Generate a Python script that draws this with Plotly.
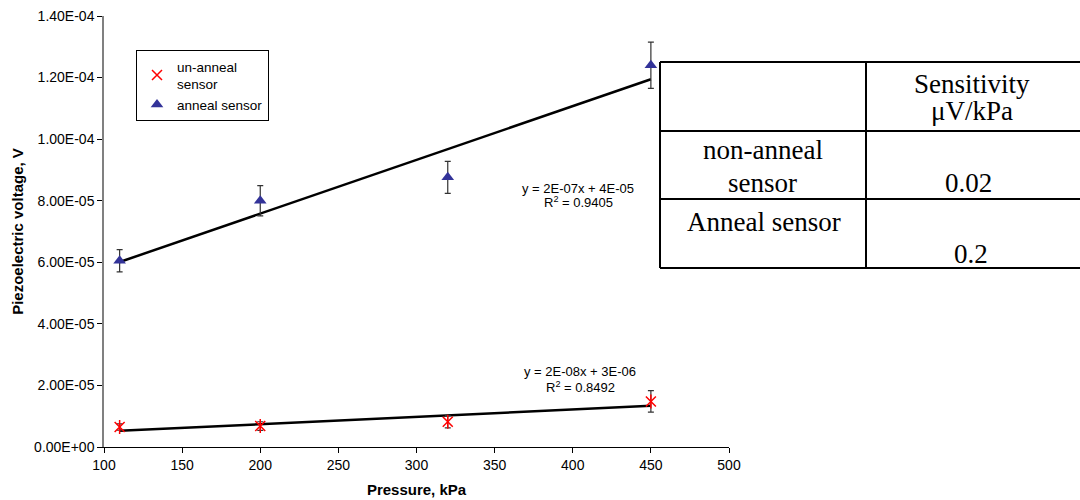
import numpy as np
import plotly.graph_objects as go

# ---------------- data ----------------
pressure = [110, 200, 320, 450]
unanneal_v = [6.5e-6, 6.8e-6, 8.2e-6, 1.48e-5]
unanneal_err = [1.0e-6, 1.4e-6, 2.0e-6, 3.5e-6]
anneal_v = [6.05e-5, 8.0e-5, 8.76e-5, 1.24e-4]
anneal_err = [3.6e-6, 4.9e-6, 5.2e-6, 7.5e-6]

y_tickvals = [0, 2e-5, 4e-5, 6e-5, 8e-5, 1e-4, 1.2e-4, 1.4e-4]
y_ticktext = ["0.00E+00", "2.00E-05", "4.00E-05", "6.00E-05", "8.00E-05",
              "1.00E-04", "1.20E-04", "1.40E-04"]
x_tickvals = [100, 150, 200, 250, 300, 350, 400, 450, 500]

eq_anneal = ["y = 2E-07x + 4E-05", "R<sup>2</sup> = 0.9405"]
eq_unanneal = ["y = 2E-08x + 3E-06", "R<sup>2</sup> = 0.8492"]

table_header = ["Sensitivity", "\u03bcV/kPa"]
table_rows = [["non-anneal", "sensor"], ["Anneal sensor"]]
table_values = ["0.02", "0.2"]

# ---------------- layout geometry ----------------
W, H = 1080, 500
L, R, T, B = 104, 729, 16, 447


def px(xp):
    return (xp - L) / (R - L)


def py(yp):
    return (B - yp) / (B - T)


fig = go.Figure()

# trendlines (least squares fit, like the spreadsheet)
xfit = np.array([pressure[0], pressure[-1]])
for vals in (unanneal_v, anneal_v):
    k, c = np.polyfit(pressure, vals, 1)
    fig.add_trace(go.Scatter(x=xfit, y=k * xfit + c, mode="lines",
                             line=dict(color="black", width=2.5),
                             showlegend=False, hoverinfo="skip"))

# un-anneal sensor (star marker = x + vertical line)
fig.add_trace(go.Scatter(
    x=pressure, y=unanneal_v, mode="markers", name="un-anneal<br>sensor",
    marker=dict(symbol="x-thin-open", size=10, color="#FF0000",
                line=dict(color="#FF0000", width=1.5)),
    error_y=dict(type="data", array=unanneal_err, visible=True,
                 color="#333333", thickness=1.2, width=3),
    legendgroup="u"))
fig.add_trace(go.Scatter(
    x=pressure, y=unanneal_v, mode="markers", showlegend=False,
    marker=dict(symbol="line-ns-open", size=10, color="#FF0000",
                line=dict(color="#FF0000", width=1.5)),
    legendgroup="u", hoverinfo="skip"))

# anneal sensor
fig.add_trace(go.Scatter(
    x=pressure, y=anneal_v, mode="markers", name="anneal sensor",
    marker=dict(symbol="triangle-up", size=11, color="#333399"),
    error_y=dict(type="data", array=anneal_err, visible=True,
                 color="#333333", thickness=1.2, width=3)))

# trendline equations
ann = []
for text, xp, yp in [(eq_anneal[0], 578, 188), (eq_anneal[1], 578, 202),
                     (eq_unanneal[0], 580, 371), (eq_unanneal[1], 580, 387)]:
    ann.append(dict(text=text, x=px(xp), y=py(yp), xref="paper", yref="paper",
                    showarrow=False, xanchor="center", yanchor="middle",
                    font=dict(family="Arial, Liberation Sans", size=13, color="black")))

# table text
serif = dict(family="Liberation Serif, Times New Roman", size=27, color="black")
cells = [(table_header[0], 972, 84), (table_header[1], 972, 111),
         (table_rows[0][0], 763, 150), (table_rows[0][1], 762, 183),
         (table_values[0], 968, 183),
         (table_rows[1][0], 764, 222), (table_values[1], 971, 254)]
for text, xp, yp in cells:
    ann.append(dict(text=text, x=px(xp), y=py(yp), xref="paper", yref="paper",
                    showarrow=False, xanchor="center", yanchor="middle", font=serif))

# table lines
shapes = []
lw = 2
for yp in (62, 131, 199, 268):
    shapes.append(dict(type="line", xref="paper", yref="paper",
                       x0=px(660), x1=px(1082), y0=py(yp), y1=py(yp),
                       line=dict(color="black", width=lw)))
for xp in (660, 866):
    shapes.append(dict(type="line", xref="paper", yref="paper",
                       x0=px(xp), x1=px(xp), y0=py(62), y1=py(268),
                       line=dict(color="black", width=lw)))

fig.update_layout(
    width=W, height=H,
    margin=dict(l=L, r=W - R, t=T, b=H - B, autoexpand=False),
    paper_bgcolor="white", plot_bgcolor="white",
    font=dict(family="Arial, Liberation Sans", color="black", size=14),
    xaxis=dict(range=[100, 500], tickvals=x_tickvals, showgrid=False,
               zeroline=False, showline=True, linecolor="black", linewidth=1,
               ticks="outside", ticklen=5, tickcolor="black", automargin=False,
               tickfont=dict(size=14),
               title=dict(text="<b>Pressure, kPa</b>", font=dict(size=15), standoff=12)),
    yaxis=dict(range=[0, 1.4e-4], tickvals=y_tickvals, ticktext=y_ticktext,
               showgrid=False, zeroline=False, showline=True,
               linecolor="#808080", linewidth=1.5, automargin=False,
               ticks="outside", ticklen=5, tickcolor="black",
               tickfont=dict(size=14),
               title=dict(text="<b>Piezoelectric voltage, V</b>", font=dict(size=15),
                          standoff=7)),
    legend=dict(x=px(136), y=py(50), xanchor="left", yanchor="top",
                bgcolor="white", bordercolor="black", borderwidth=1,
                font=dict(size=13.5), itemwidth=30, tracegroupgap=0),
    annotations=ann, shapes=shapes,
)

fig.write_html("out.html", config={"displayModeBar": False},
               post_script="document.body.style.margin='0';"
                           "document.body.style.overflow='hidden';")
